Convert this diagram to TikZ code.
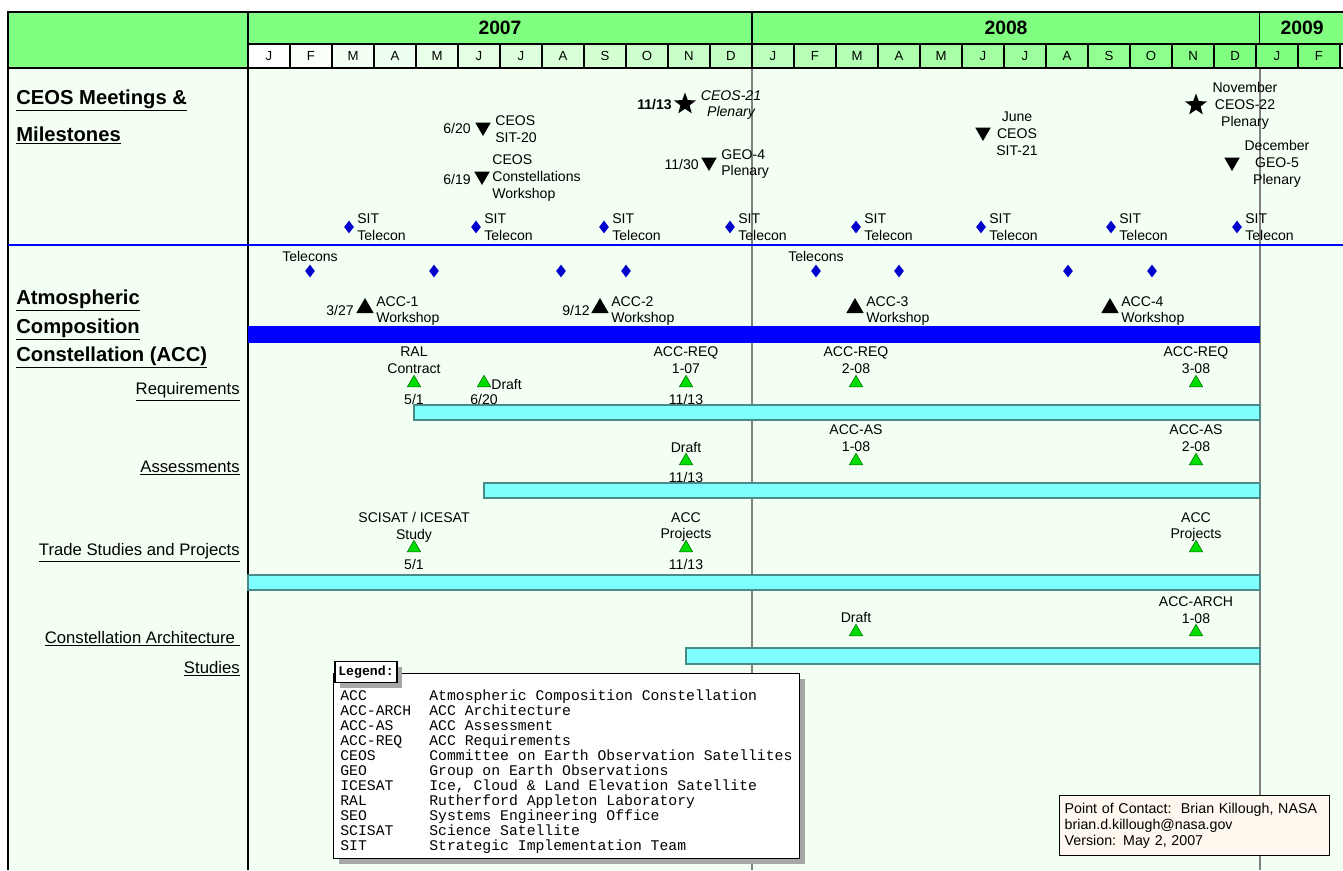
\documentclass[tikz,border=0pt]{standalone}
\usepackage{fontspec}
\setmainfont{Liberation Sans}
\setmonofont{Liberation Mono}
\usetikzlibrary{positioning,shapes.geometric,shadows}
\definecolor{hdrGreen}{HTML}{80FF80}
\definecolor{bodyBg}{HTML}{F2FFF2}
\definecolor{barCyan}{HTML}{80FFFF}
\definecolor{barEdge}{HTML}{4A8A8A}
\definecolor{msGreen}{HTML}{00DD00}
\definecolor{diaBlue}{HTML}{0000CC}
\definecolor{accBlue}{HTML}{0000FF}
\definecolor{pocBg}{HTML}{FFF8EE}
\newcommand{\lblsize}{\fontsize{8}{9.6}\selectfont}
\newcommand{\rowsize}{\fontsize{9.5}{11}\selectfont}
\newcommand{\ttlsize}{\fontsize{11.5}{13}\selectfont\bfseries}

\tikzset{
  every node/.style={font=\lblsize},
  txt/.style={inner sep=0pt, align=center},
  txtw/.style={inner sep=0pt, align=left, anchor=west},
  txte/.style={inner sep=0pt, anchor=east},
  ttl/.style={inner sep=0pt, anchor=base west, font=\ttlsize},
  rowlbl/.style={inner sep=0pt, anchor=base east, font=\rowsize},
  hdrcell/.style={draw, line width=0.8pt, fill=hdrGreen, inner sep=0pt},
  yearcell/.style={hdrcell, font=\fontsize{11}{13}\selectfont\bfseries, minimum height=0.64cm},
  monthcell/.style={draw, line width=0.6pt, inner sep=0pt, minimum width=0.84cm, minimum height=0.48cm, font=\fontsize{7.5}{9}\selectfont},
  meettri/.style={regular polygon, regular polygon sides=3, shape border rotate=180, fill=black, inner sep=0pt, minimum size=0.36cm},
  meetstar/.style={star, star points=5, star point ratio=2.4, fill=black, inner sep=0pt, minimum size=0.46cm},
  wstri/.style={regular polygon, regular polygon sides=3, fill=black, inner sep=0pt, minimum size=0.4cm},
  mstri/.style={regular polygon, regular polygon sides=3, fill=msGreen, draw=green!40!black, line width=0.3pt, inner sep=0pt, minimum size=0.31cm},
  tcon/.style={diamond, fill=diaBlue, inner sep=0pt, minimum width=0.2cm, minimum height=0.26cm},
  phasebar/.style={draw=barEdge, fill=barCyan, line width=0.6pt},
  legbox/.style={draw, fill=white, line width=0.8pt, drop shadow={shadow xshift=0.1cm, shadow yshift=-0.1cm, fill=black!35, opacity=1}},
  legtext/.style={inner sep=0pt, anchor=base west, font=\ttfamily\fontsize{8.4}{9}\selectfont},
  pocbox/.style={draw, line width=0.8pt, fill=pocBg, align=left, inner sep=0.1cm, text width=5.2cm, minimum height=1.2cm, font=\fontsize{8.1}{9.3}\selectfont}
}

\begin{document}
\begin{tikzpicture}[x=0.02cm, y=-0.02cm]
  \useasboundingbox (0,0) rectangle (1343,870);
  \fill[white] (0,0) rectangle (1343,870);
  \fill[bodyBg] (8,12) rectangle (1343,870);

  % header
  \node[hdrcell, anchor=north west, minimum width=4.8cm, minimum height=1.12cm] (hdrleft) at (8,12) {};
  \node[yearcell, minimum width=10.08cm] (y2007) at (500,28) {2007};
  \node[yearcell, minimum width=10.16cm] (y2008) at (1006,28) {2008};
  \node[yearcell, minimum width=1.7cm] (y2009) at (1302,28) {2009};
  \foreach \m [count=\i from 0] in {J,F,M,A,M,J,J,A,S,O,N,D,J,F,M,A,M,J,J,A,S,O,N,D,J,F} {
    \pgfmathsetmacro\mix{min(100,4.3*\i)}
    \node[monthcell, fill=hdrGreen!\mix!white] (mo\i) at ({269+42*\i},56) {\m};
  }

  % year dividers in the body
  \draw[gray, line width=0.6pt] (752,68) -- (752,870);
  \draw[gray, line width=0.6pt] (1260,68) -- (1260,870);

  % frame
  \draw[line width=1.2pt] (8,870) -- (8,12) -- (1345,12);
  \draw[line width=0.8pt] (248,12) -- (248,870);
  \draw[line width=0.8pt] (8,68) -- (1345,68);
  \draw[accBlue, line width=1.4pt] (8,245) -- (1345,245);

  % section titles
  \node[ttl] (ceosa) at (16,104) {\underline{CEOS Meetings \&}};
  \node[ttl] (ceosb) at (16,141) {\underline{Milestones}};
  \node[ttl] (acca) at (16,304) {\underline{Atmospheric}};
  \node[ttl] (accb) at (16,333) {\underline{Composition}};
  \node[ttl] (accc) at (16,361) {\underline{Constellation (ACC)}};
  \node[rowlbl] (rowreq) at (240,394) {\underline{Requirements}};
  \node[rowlbl] (rowas) at (240,472) {\underline{Assessments}};
  \node[rowlbl] (rowtr) at (240,555) {\underline{Trade Studies and Projects}};
  \node[rowlbl] (rowar) at (240,643) {\underline{Constellation Architecture\ }};
  \node[rowlbl] (rowst) at (240,673) {\underline{Studies}};

  % CEOS meetings
  \node[meetstar] (s1113) at (685,104) {};
  \node[txte, font=\lblsize\bfseries] (d1113) at (672,105) {11/13};
  \node[txt, font=\lblsize\itshape] (ceos21) at (731,105) {CEOS-21\\Plenary};
  \node[meettri] (t620) at (483,127) {};
  \node[txte] (d620) at (471,128) {6/20};
  \node[txtw] (sit20) at (495,129) {CEOS\\SIT-20};
  \node[meettri] (t619) at (482,176) {};
  \node[txte] (d619) at (471,179) {6/19};
  \node[txtw] (cws) at (492,178) {CEOS\\Constellations\\Workshop};
  \node[meettri] (t1130) at (709,162) {};
  \node[txte] (d1130) at (699,164) {11/30};
  \node[txtw] (geo4) at (721,164) {GEO-4\\Plenary};
  \node[meettri] (tjun) at (983,132) {};
  \node[txt] (sit21) at (1017,134) {June\\CEOS\\SIT-21};
  \node[meetstar] (snov) at (1196,105) {};
  \node[txt] (ceos22) at (1245,106) {November\\CEOS-22\\Plenary};
  \node[meettri] (tdec) at (1232,162) {};
  \node[txt] (geo5) at (1277,164) {December\\GEO-5\\Plenary};
  \foreach \x [count=\i] in {349,476,604,730,856,981,1111,1237} {
    \node[tcon] (sit\i) at (\x,227) {};
    \node[txtw] (sitl\i) at (\x+8,227) {SIT\\Telecon};
  }

  % ACC telecons and workshops
  \node[txt] (tel07) at (310,256) {Telecons};
  \node[txt] (tel08) at (816,256) {Telecons};
  \foreach \x [count=\i] in {310,434,561,626,816,899,1068,1152}
    \node[tcon] (acct\i) at (\x,271) {};
  \foreach \x/\num in {365/1,600/2,855/3,1110/4} {
    \node[wstri] (ws\num) at (\x,308) {};
    \node[txtw] (wsl\num) at (\x+11,311) {ACC-\num\\Workshop};
  }
  \node[txte] (d327) at (354,310) {3/27};
  \node[txte] (d912) at (590,310) {9/12};
  \fill[accBlue] (248,326) rectangle (1260,343);

  % requirements
  \draw[phasebar] (414,405) rectangle (1260,420);
  \node[mstri] (rq1) at (414,383) {};
  \node[txt] (rq1t) at (414,360) {RAL\\Contract};
  \node[txt] (rq1d) at (414,399) {5/1};
  \node[mstri] (rq2) at (484,383) {};
  \node[txtw] (rq2t) at (491,384) {Draft};
  \node[txt] (rq2d) at (484,399) {6/20};
  \node[mstri] (rq3) at (686,383) {};
  \node[txt] (rq3t) at (686,360) {ACC-REQ\\1-07};
  \node[txt] (rq3d) at (686,399) {11/13};
  \node[mstri] (rq4) at (856,383) {};
  \node[txt] (rq4t) at (856,360) {ACC-REQ\\2-08};
  \node[mstri] (rq5) at (1196,383) {};
  \node[txt] (rq5t) at (1196,360) {ACC-REQ\\3-08};

  % assessments
  \draw[phasebar] (484,483) rectangle (1260,498);
  \node[mstri] (as1) at (686,461) {};
  \node[txt] (as1t) at (686,447) {Draft};
  \node[txt] (as1d) at (686,477) {11/13};
  \node[mstri] (as2) at (856,461) {};
  \node[txt] (as2t) at (856,438) {ACC-AS\\1-08};
  \node[mstri] (as3) at (1196,461) {};
  \node[txt] (as3t) at (1196,438) {ACC-AS\\2-08};

  % trade studies and projects
  \draw[phasebar] (248,575) rectangle (1260,590);
  \node[mstri] (tr1) at (414,548) {};
  \node[txt] (tr1t) at (414,527) {SCISAT / ICESAT\\Study};
  \node[txt] (tr1d) at (414,564) {5/1};
  \node[mstri] (tr2) at (686,548) {};
  \node[txt] (tr2t) at (686,527) {ACC\\Projects};
  \node[txt] (tr2d) at (686,564) {11/13};
  \node[mstri] (tr3) at (1196,548) {};
  \node[txt] (tr3t) at (1196,527) {ACC\\Projects};

  % constellation architecture
  \draw[phasebar] (686,648) rectangle (1260,664);
  \node[mstri] (ar1) at (856,632) {};
  \node[txt] (ar1t) at (856,617) {Draft};
  \node[mstri] (ar2) at (1196,632) {};
  \node[txt] (ar2t) at (1196,610) {ACC-ARCH\\1-08};

  % legend
  \node[legbox, anchor=north west, minimum width=9.32cm, minimum height=3.7cm] (legend) at (333,673) {};
  \node[legbox, inner sep=0pt, minimum width=1.24cm, minimum height=0.42cm, font=\ttfamily\bfseries\fontsize{7.5}{9}\selectfont] (leghead) at (366,672) {Legend:};
  \foreach \abbr/\full [count=\k] in {ACC/Atmospheric Composition Constellation,
      ACC-ARCH/ACC Architecture, ACC-AS/ACC Assessment, ACC-REQ/ACC Requirements,
      CEOS/Committee on Earth Observation Satellites, GEO/Group on Earth Observations,
      ICESAT/{Ice, Cloud \& Land Elevation Satellite}, RAL/Rutherford Appleton Laboratory,
      SEO/Systems Engineering Office, SCISAT/Science Satellite,
      SIT/Strategic Implementation Team} {
    \node[legtext] (la\k) at (340,685+15*\k) {\abbr};
    \node[legtext] (lf\k) at (429,685+15*\k) {\full};
  }

  % contact
  \node[pocbox, anchor=north west] (poc) at (1059,795) {Point of Contact:\ \ Brian Killough, NASA\\brian.d.killough@nasa.gov\\Version: May 2, 2007};
\end{tikzpicture}
\end{document}
